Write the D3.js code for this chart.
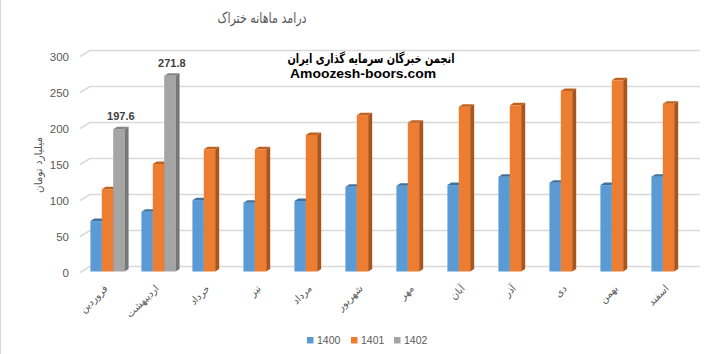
<!DOCTYPE html>
<html>
<head>
<meta charset="utf-8">
<script src="https://cdn.jsdelivr.net/npm/d3@7/dist/d3.min.js"></script>
<style>
  html, body { margin: 0; padding: 0; background: #fff; }
  svg { display: block; }
</style>
</head>
<body>
<svg id="chart" width="727" height="354"></svg>
<script>
// monthly values, billion toman
var months = ['فروردین', 'اردیبهشت', 'خرداد', 'تیر', 'مرداد', 'شهریور', 'مهر', 'آبان', 'آذر', 'دی', 'بهمن', 'اسفند'];
var seriesNames = ['1400', '1401', '1402'];
var values1400 = [70, 83, 99, 95.6, 98, 117.6, 119.2, 120.1, 131.7, 123.3, 120, 131.7];
var values1401 = [114.2, 149.3, 169.7, 169.7, 189.6, 217, 206.7, 228.9, 230.8, 250.7, 265.5, 233];
var values1402 = [197.6, 271.8, null, null, null, null, null, null, null, null, null, null];
var yTicks = [0, 50, 100, 150, 200, 250, 300];

var colors = {
  '1400': { front: '#5b9bd5', top: '#41729f', side: '#3f6f9c' },
  '1401': { front: '#ed7d31', top: '#c0621f', side: '#a9551d' },
  '1402': { front: '#a5a5a5', top: '#858585', side: '#777777' }
};

var svg = d3.select('#chart');
var arabicFont = '"DejaVu Sans", sans-serif';
var latinFont = '"Liberation Sans", Arial, sans-serif';
var textGrey = '#595959';

// depth offsets for the 3d look
var backDx = 10, backDy = -5;
var barDx = 4, barDy = -2.5;

var y = d3.scaleLinear().domain([0, 300]).range([271.5, 55.5]);
var x0 = d3.scaleBand().domain(months).range([82, 694]).paddingInner(0.33).paddingOuter(0.165);
var x1 = d3.scaleBand().domain(seriesNames).range([0, x0.bandwidth()]);

// left border of the chart area
svg.append('line')
  .attr('x1', 0.5).attr('x2', 0.5)
  .attr('y1', 0).attr('y2', 354)
  .attr('stroke', '#d9d9d9');

// title
svg.append('text')
  .attr('x', 262).attr('y', 23)
  .attr('text-anchor', 'middle')
  .attr('font-family', arabicFont)
  .attr('font-size', 15)
  .attr('fill', textGrey)
  .attr('textLength', 89)
  .attr('lengthAdjust', 'spacingAndGlyphs')
  .text('درامد ماهانه ختراک');

// back wall gridlines with the slanted floor edge
var grid = svg.append('g').attr('class', 'grid');
yTicks.forEach(function(v) {
  var yb = y(v) + backDy;
  grid.append('path')
    .attr('d', 'M80,' + (yb + 6) + 'L' + (80 + backDx) + ',' + yb + 'L700,' + yb)
    .attr('fill', 'none')
    .attr('stroke', '#d9d9d9')
    .attr('stroke-width', 1.5);
});

// y tick labels
svg.append('g').selectAll('text')
  .data(yTicks)
  .enter().append('text')
  .attr('x', 69)
  .attr('y', function(d) { return y(d) + 1.5; })
  .attr('dy', '0.35em')
  .attr('text-anchor', 'end')
  .attr('font-family', latinFont)
  .attr('font-size', 11.5)
  .attr('fill', textGrey)
  .text(function(d) { return d; });

// y axis title
svg.append('text')
  .attr('transform', 'translate(42,165) rotate(-90)')
  .attr('text-anchor', 'middle')
  .attr('font-family', arabicFont)
  .attr('font-size', 11)
  .attr('fill', textGrey)
  .attr('textLength', 56)
  .attr('lengthAdjust', 'spacingAndGlyphs')
  .text('میلیارد تومان');

// bars
var seriesValues = { '1400': values1400, '1401': values1401, '1402': values1402 };
var bars = svg.append('g').attr('class', 'bars');
var bw = x1.bandwidth();
var y0 = y(0);

months.forEach(function(m, i) {
  seriesNames.forEach(function(s) {
    var v = seriesValues[s][i];
    if (v === null) return;
    var bx = x0(m) + x1(s),
      by = y(v),
      c = colors[s];

    bars.append('rect')
      .attr('x', bx).attr('y', by)
      .attr('width', bw).attr('height', y0 - by)
      .attr('fill', c.front);

    bars.append('path')
      .attr('d', 'M' + bx + ',' + by + 'L' + (bx + barDx) + ',' + (by + barDy) +
        'L' + (bx + bw + barDx) + ',' + (by + barDy) + 'L' + (bx + bw) + ',' + by + 'Z')
      .attr('fill', c.top);

    bars.append('path')
      .attr('d', 'M' + (bx + bw) + ',' + by + 'L' + (bx + bw + barDx) + ',' + (by + barDy) +
        'L' + (bx + bw + barDx) + ',' + (y0 + barDy) + 'L' + (bx + bw) + ',' + y0 + 'Z')
      .attr('fill', c.side);

    if (s === '1402') {
      bars.append('text')
        .attr('x', bx + bw / 2 + 2)
        .attr('y', by - 9)
        .attr('text-anchor', 'middle')
        .attr('font-family', latinFont)
        .attr('font-size', 11)
        .attr('font-weight', 'bold')
        .attr('fill', '#404040')
        .text(v.toFixed(1));
    }
  });
});

// x labels, rotated
svg.append('g').selectAll('text')
  .data(months)
  .enter().append('text')
  .attr('transform', function(d) {
    return 'translate(' + (x0(d) + x0.bandwidth() / 2 + 1) + ',289) rotate(-45)';
  })
  .attr('text-anchor', 'end')
  .attr('font-family', arabicFont)
  .attr('font-size', 10)
  .attr('fill', textGrey)
  .text(function(d) { return d; });

// watermark
svg.append('text')
  .attr('x', 371).attr('y', 63)
  .attr('text-anchor', 'middle')
  .attr('font-family', arabicFont)
  .attr('font-size', 13)
  .attr('font-weight', 'bold')
  .attr('fill', '#000')
  .attr('textLength', 167)
  .attr('lengthAdjust', 'spacingAndGlyphs')
  .text('انجمن خبرگان سرمایه گذاری ایران');

svg.append('text')
  .attr('x', 363).attr('y', 78)
  .attr('text-anchor', 'middle')
  .attr('font-family', latinFont)
  .attr('font-size', 13.5)
  .attr('font-weight', 'bold')
  .attr('fill', '#000')
  .attr('textLength', 146)
  .attr('lengthAdjust', 'spacingAndGlyphs')
  .text('Amoozesh-boors.com');

// legend
var legendX = { '1400': 307, '1401': 351, '1402': 394 };
var legend = svg.append('g').attr('class', 'legend');
seriesNames.forEach(function(s) {
  legend.append('rect')
    .attr('x', legendX[s]).attr('y', 337)
    .attr('width', 6.5).attr('height', 6.5)
    .attr('fill', colors[s].front);
  legend.append('text')
    .attr('x', legendX[s] + 10).attr('y', 344)
    .attr('font-family', latinFont)
    .attr('font-size', 10.5)
    .attr('fill', textGrey)
    .text(s);
});
</script>
</body>
</html>
